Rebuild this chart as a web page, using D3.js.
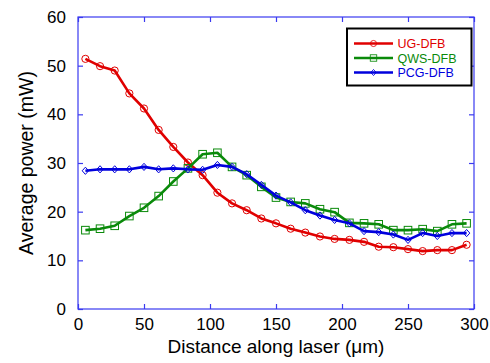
<!DOCTYPE html>
<html>
<head>
<meta charset="utf-8">
<script src="https://cdn.jsdelivr.net/npm/d3@7"></script>
<style>
  body { margin: 0; background: #fff; }
  text { font-family: "Liberation Sans", Arial, sans-serif; }
</style>
</head>
<body>
<svg width="490" height="363"></svg>
<script>
// distance along laser (um)
const xs = [5.6, 16.7, 27.8, 38.9, 50.0, 61.1, 72.2, 83.3, 94.4, 105.6, 116.7, 127.8, 138.9, 150.0,
    161.1, 172.2, 183.3, 194.4, 205.6, 216.7, 227.8, 238.9, 250.0, 261.1, 272.2, 283.3, 294.4];
const ug = [51.4, 49.9, 49.0, 44.3, 41.2, 36.8, 33.3, 30.1, 27.5, 23.9, 21.7, 20.3, 18.6, 17.6,
    16.5, 15.7, 14.9, 14.4, 14.2, 13.8, 12.8, 12.7, 12.3, 11.9, 12.1, 12.1, 13.2];
const qws = [16.2, 16.5, 17.1, 19.1, 20.8, 23.2, 26.2, 28.9, 31.8, 32.1, 29.2, 27.5, 25.1, 22.9,
    22.0, 21.7, 20.5, 19.9, 17.7, 17.6, 17.4, 16.2, 16.2, 16.4, 16.0, 17.4, 17.6];
const pcg = [28.4, 28.7, 28.7, 28.7, 29.2, 28.7, 28.9, 28.7, 28.6, 29.6, 29.2, 27.7, 25.5, 23.3,
    21.9, 20.3, 19.2, 18.3, 17.6, 16.0, 15.8, 15.3, 14.2, 15.6, 15.0, 15.6, 15.6];
const seriesNames = ['UG-DFB', 'QWS-DFB', 'PCG-DFB'];
const xTicks = [0, 50, 100, 150, 200, 250, 300];
const yTicks = [0, 10, 20, 30, 40, 50, 60];

const colors = ['#e00000', '#0a8a0a', '#0000dd'];
const shapes = ['circle', 'square', 'diamond'];
const series = [ug, qws, pcg];

const L = 78, R = 474, T = 17, B = 309;
const axisColor = '#3a3af0';

const svg = d3.select('svg');

const x = d3.scaleLinear().domain([0, 300]).range([L, R]);
const y = d3.scaleLinear().domain([0, 60]).range([B, T]);

// frame
svg.append('rect')
    .attr('x', L).attr('y', T).attr('width', R - L).attr('height', B - T)
    .attr('fill', 'none').attr('stroke', axisColor).attr('stroke-width', 1.2);

// axes with inward ticks
function styleAxis(g) {
    g.select('.domain').remove();
    g.selectAll('.tick line').attr('stroke', axisColor).attr('stroke-width', 1.2);
    g.selectAll('.tick text').attr('fill', '#000').style('font-size', '17px')
        .style('font-family', '"Liberation Sans", Arial, sans-serif');
}
svg.append('g').attr('transform', `translate(0,${B})`)
    .call(d3.axisBottom(x).tickValues(xTicks).tickSizeInner(-5).tickSizeOuter(0).tickPadding(9))
    .call(styleAxis);
svg.append('g').attr('transform', `translate(0,${T})`)
    .call(d3.axisTop(x).tickValues(xTicks).tickSizeInner(-5).tickSizeOuter(0).tickFormat(''))
    .call(styleAxis);
svg.append('g').attr('transform', `translate(${L},0)`)
    .call(d3.axisLeft(y).tickValues(yTicks).tickSizeInner(-5).tickSizeOuter(0).tickPadding(12))
    .call(styleAxis);
svg.append('g').attr('transform', `translate(${R},0)`)
    .call(d3.axisRight(y).tickValues(yTicks).tickSizeInner(-5).tickSizeOuter(0).tickFormat(''))
    .call(styleAxis);

// axis titles
svg.append('text')
    .attr('x', (L + R) / 2).attr('y', 353)
    .attr('text-anchor', 'middle').style('font-size', '19px')
    .text('Distance along laser (\u03bcm)');
svg.append('text')
    .attr('transform', `translate(33,${(T + B) / 2}) rotate(-90)`)
    .attr('text-anchor', 'middle').style('font-size', '19.5px')
    .text('Average power (mW)');

function marker(g, shape, color) {
    if (shape === 'circle') {
        g.append('circle').attr('r', 3.6);
    } else if (shape === 'square') {
        g.append('rect').attr('x', -3.8).attr('y', -3.8).attr('width', 7.6).attr('height', 7.6);
    } else {
        g.append('path').attr('d', 'M0,-3.6L3.2,0L0,3.6L-3.2,0Z');
    }
    g.selectAll('*').attr('fill', 'none').attr('stroke', color).attr('stroke-width', 1);
}

const line = d3.line().x((d, i) => x(xs[i])).y(d => y(d));

series.forEach((vals, k) => {
    const g = svg.append('g');
    g.append('path').datum(vals)
        .attr('d', line)
        .attr('fill', 'none').attr('stroke', colors[k]).attr('stroke-width', 2.6)
        .attr('stroke-linejoin', 'round');
    vals.forEach((v, i) => {
        const m = g.append('g').attr('transform', `translate(${x(xs[i])},${y(v)})`);
        marker(m, shapes[k], colors[k]);
    });
});

// legend
const lg = svg.append('g');
lg.append('rect')
    .attr('x', 347).attr('y', 28.5).attr('width', 124.5).attr('height', 57)
    .attr('fill', '#fff').attr('stroke', '#000').attr('stroke-width', 2);
seriesNames.forEach((name, k) => {
    const yy = 43.5 + k * 14.5;
    lg.append('line').attr('x1', 354).attr('x2', 393).attr('y1', yy).attr('y2', yy)
        .attr('stroke', colors[k]).attr('stroke-width', 2.6);
    const m = lg.append('g');
    marker(m, shapes[k], colors[k]);
    m.attr('transform', `translate(373.5,${yy}) scale(0.85)`);
    lg.append('text').attr('x', 397.5).attr('y', yy + 4.5)
        .attr('fill', colors[k]).style('font-size', '12.5px').text(name);
});
</script>
</body>
</html>
